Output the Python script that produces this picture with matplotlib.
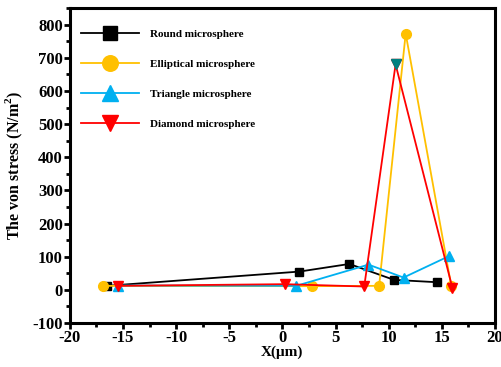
import numpy as np
import matplotlib.pyplot as plt
from matplotlib.ticker import MultipleLocator

plt.rcParams['font.family'] = ['Liberation Serif', 'DejaVu Serif']
plt.rcParams['font.weight'] = 'bold'
plt.rcParams['axes.unicode_minus'] = False
plt.rcParams['mathtext.fontset'] = 'custom'
plt.rcParams['mathtext.rm'] = 'Liberation Serif:bold'

# data
round_x = [-16.5, 1.6, 6.3, 10.5, 14.5]
round_y = [12, 55, 78, 30, 23]

ellip_x = [-16.9, 2.8, 9.1, 11.6, 15.9]
ellip_y = [12, 11, 12, 773, 10]

tri_x = [-15.5, 1.3, 8.1, 11.4, 15.7]
tri_y = [13, 12, 76, 37, 102]

dia_x = [-15.5, 0.2, 7.7, 10.65, 16.0]
dia_y = [12, 17, 10, 680, 5]

fig = plt.figure(figsize=(5.02, 3.67), dpi=100)
ax = fig.add_axes([0.139, 0.12, 0.847, 0.858])

ax.plot(round_x, round_y, '-s', color='black', ms=6, lw=1.3, label='Round microsphere')
ax.plot(ellip_x, ellip_y, '-o', color='#FFC000', ms=7, lw=1.3, label='Elliptical microsphere')
ax.plot(tri_x, tri_y, '-^', color='#00B0F0', ms=7, lw=1.3, label='Triangle microsphere')
ax.plot(dia_x, dia_y, '-v', color='#FF0000', ms=7, lw=1.3, label='Diamond microsphere')
# the peak marker of the diamond series is drawn in teal
ax.plot(dia_x[3], dia_y[3], 'v', color='#008080', ms=7)

ax.set_xlim(-20, 20)
ax.set_ylim(-100, 850)
ax.xaxis.set_major_locator(MultipleLocator(5))
ax.xaxis.set_minor_locator(MultipleLocator(2.5))
ax.yaxis.set_major_locator(MultipleLocator(100))
ax.yaxis.set_minor_locator(MultipleLocator(50))
ax.set_yticks(np.arange(-100, 801, 100))
ax.tick_params(which='major', direction='out', length=4, width=2, labelsize=12, pad=1)
ax.tick_params(which='minor', direction='out', length=3, width=2)
for s in ax.spines.values():
    s.set_linewidth(2.2)

ax.set_xlabel('X(μm)', fontsize=11, fontweight='bold', labelpad=0)
ax.set_ylabel('The von stress (N/m$^2$)', fontsize=11.5, fontweight='bold', labelpad=5)

leg = ax.legend(loc='upper left', bbox_to_anchor=(0.0, 0.968), frameon=False,
                fontsize=8, markerscale=1.6, handlelength=5.2, handletextpad=1.0,
                labelspacing=1.82, borderaxespad=0.6)
for t in leg.get_texts():
    t.set_fontweight('bold')

fig.savefig('out.png', dpi=100)
